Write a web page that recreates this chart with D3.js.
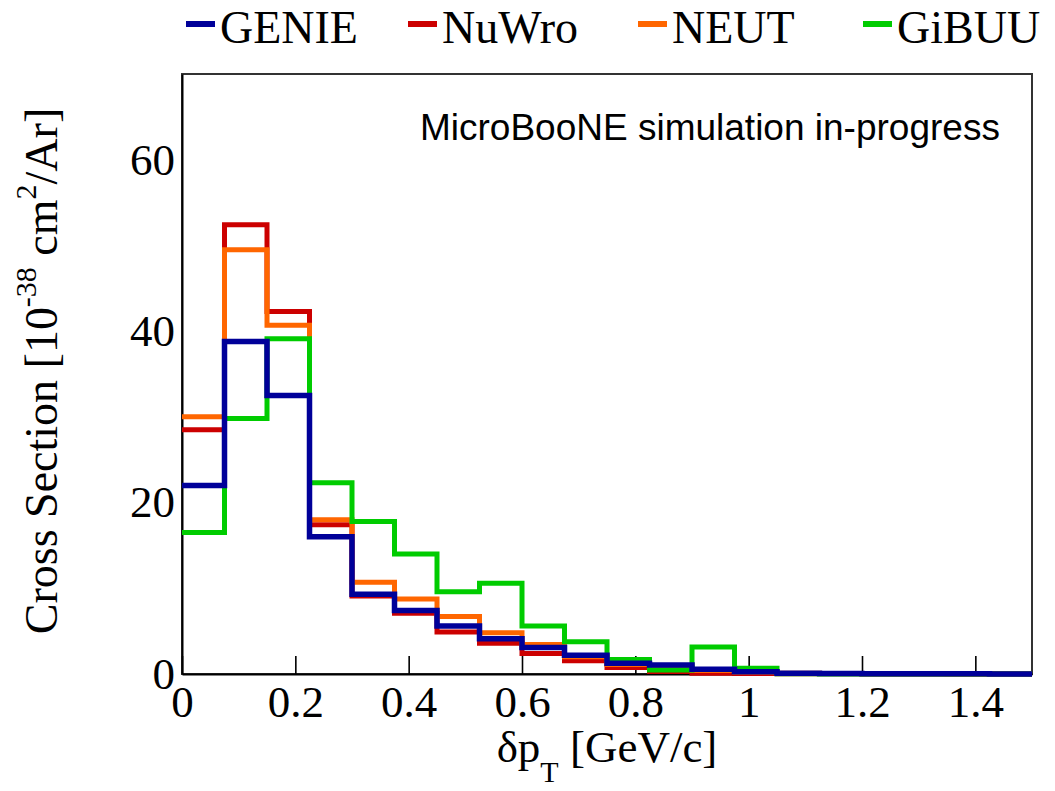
<!DOCTYPE html>
<html>
<head>
<meta charset="utf-8">
<script src="https://cdn.jsdelivr.net/npm/d3@7"></script>
<style>
  html, body { margin: 0; padding: 0; background: #ffffff; }
  svg { display: block; }
</style>
</head>
<body>
<script>
// Bin edges of the delta-pT histogram [GeV/c]
const binEdges = [0, 0.075, 0.15, 0.225, 0.3, 0.375, 0.45, 0.525, 0.6, 0.675, 0.75,
                  0.825, 0.9, 0.975, 1.05, 1.125, 1.2, 1.275, 1.35, 1.425, 1.5];

// Cross section per bin [10^-38 cm^2/Ar]
const genieValues = [22.0, 38.8, 32.5, 16.0, 9.3, 7.4, 5.6, 4.1, 3.1, 2.2,
                     1.25, 1.05, 0.55, 0.27, 0.1, 0.06, 0.04, 0.03, 0.02, 0.01];
const nuwroValues = [28.5, 52.4, 42.3, 17.4, 9.1, 7.1, 4.9, 3.6, 2.4, 1.55,
                     0.75, 0.3, 0.1, 0.05, 0.03, 0.02, 0.01, 0.01, 0.01, 0.0];
const neutValues  = [30.0, 49.5, 40.7, 18.0, 10.7, 8.75, 6.7, 4.8, 3.45, 2.0,
                     1.1, 0.8, 0.4, 0.2, 0.1, 0.05, 0.03, 0.02, 0.01, 0.01];
const gibuuValues = [16.5, 29.8, 39.1, 22.3, 17.8, 14.0, 9.6, 10.6, 5.6, 3.75,
                     1.7, 0.47, 3.15, 0.66, 0.02, 0.01, 0.01, 0.0, 0.0, 0.0];

const seriesNames = ["GENIE", "NuWro", "NEUT", "GiBUU"];
const xTickValues = [0, 0.2, 0.4, 0.6, 0.8, 1, 1.2, 1.4];
const yTickValues = [0, 20, 40, 60];

const W = 1055, H = 791;
const frame = { left: 182, right: 1032, top: 74, bottom: 674 };

const colors = { GENIE: "#000099", NuWro: "#cc0000", NEUT: "#ff6600", GiBUU: "#00cc00" };
const widths = { GENIE: 5.5, NuWro: 5, NEUT: 5, GiBUU: 5 };
const valuesByName = { GENIE: genieValues, NuWro: nuwroValues, NEUT: neutValues, GiBUU: gibuuValues };

const svg = d3.select("body").append("svg")
  .attr("width", W).attr("height", H)
  .style("background", "#ffffff");

const x = d3.scaleLinear().domain([0, 1.5]).range([frame.left, frame.right]);
const y = d3.scaleLinear().domain([0, 70]).range([frame.bottom, frame.top]);

const serif = "'Liberation Serif', 'Times New Roman', Times, serif";
const sans = "'Liberation Sans', Arial, Helvetica, sans-serif";

// Frame (top and right edges)
svg.append("rect")
  .attr("x", frame.left).attr("y", frame.top)
  .attr("width", frame.right - frame.left).attr("height", frame.bottom - frame.top)
  .attr("fill", "none").attr("stroke", "#333").attr("stroke-width", 2);

// X axis with ticks pointing into the frame
const xAxis = svg.append("g")
  .attr("transform", `translate(0,${frame.bottom})`)
  .call(d3.axisBottom(x).tickValues(xTickValues).tickFormat(d3.format("~g"))
        .tickSizeInner(-18).tickSizeOuter(0).tickPadding(11));
xAxis.select(".domain").attr("stroke", "#000").attr("stroke-width", 2);
xAxis.selectAll(".tick line").attr("stroke", "#000").attr("stroke-width", 1.6);
xAxis.selectAll(".tick text")
  .attr("font-family", serif).attr("font-size", 45).attr("fill", "#000");

// Y axis (labels only)
const yAxis = svg.append("g")
  .attr("transform", `translate(${frame.left},0)`)
  .call(d3.axisLeft(y).tickValues(yTickValues).tickSize(0).tickPadding(7));
yAxis.select(".domain").attr("stroke", "#000").attr("stroke-width", 2);
yAxis.selectAll(".tick text")
  .attr("font-family", serif).attr("font-size", 45).attr("fill", "#000");

// Step histograms
const line = d3.line()
  .x(d => x(d[0])).y(d => y(d[1]))
  .curve(d3.curveStepAfter);

const drawOrder = ["NuWro", "NEUT", "GiBUU", "GENIE"];
drawOrder.forEach(name => {
  const vals = valuesByName[name];
  const pts = vals.map((v, i) => [binEdges[i], v]);
  pts.push([binEdges[binEdges.length - 1], vals[vals.length - 1]]);
  svg.append("path")
    .datum(pts)
    .attr("d", line)
    .attr("fill", "none")
    .attr("stroke", colors[name])
    .attr("stroke-width", widths[name])
    .attr("stroke-linejoin", "miter")
    .attr("stroke-linecap", "butt");
});

// Legend across the top
const legendX = { GENIE: 186, NuWro: 408, NEUT: 638, GiBUU: 863 };
const legend = svg.append("g");
seriesNames.forEach(name => {
  const lx = legendX[name];
  legend.append("line")
    .attr("x1", lx).attr("x2", lx + 29)
    .attr("y1", 24).attr("y2", 24)
    .attr("stroke", colors[name]).attr("stroke-width", 6);
  legend.append("text")
    .attr("x", lx + 34).attr("y", 43)
    .attr("font-family", serif).attr("font-size", 46).attr("fill", "#000")
    .text(name);
});

// Annotation
svg.append("text")
  .attr("x", 420).attr("y", 140)
  .attr("font-family", sans).attr("font-size", 37).attr("fill", "#000")
  .text("MicroBooNE simulation in-progress");

// X axis title: δp_T [GeV/c]
const xt = svg.append("text")
  .attr("x", (frame.left + frame.right) / 2).attr("y", 762)
  .attr("text-anchor", "middle")
  .attr("font-family", serif).attr("font-size", 45).attr("fill", "#000");
xt.append("tspan").text("δp");
xt.append("tspan").attr("dy", 20).attr("font-size", 30).text("T");
xt.append("tspan").attr("dy", -20).text(" [GeV/c]");

// Y axis title: Cross Section [10^-38 cm^2/Ar]
const yt = svg.append("text")
  .attr("transform", `translate(57,${(frame.top + frame.bottom) / 2 - 3}) rotate(-90)`)
  .attr("text-anchor", "middle")
  .attr("font-family", serif).attr("font-size", 46).attr("fill", "#000");
yt.append("tspan").text("Cross Section [10");
yt.append("tspan").attr("dy", -21).attr("font-size", 30).text("-38");
yt.append("tspan").attr("dy", 21).text(" cm");
yt.append("tspan").attr("dy", -21).attr("font-size", 30).text("2");
yt.append("tspan").attr("dy", 21).text("/Ar]");
</script>
</body>
</html>
